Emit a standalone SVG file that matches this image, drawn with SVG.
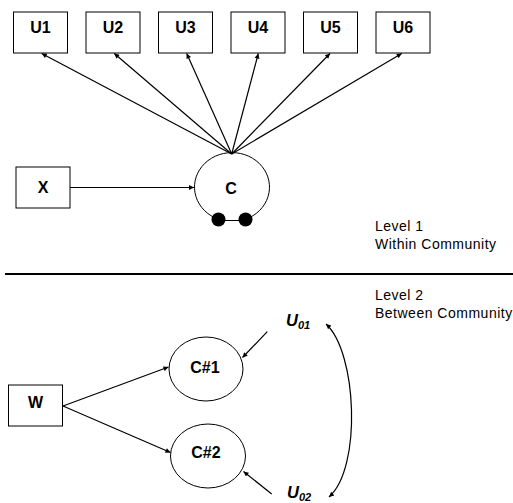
<svg xmlns="http://www.w3.org/2000/svg" width="513" height="503" viewBox="0 0 513 503">
<style>
.box{fill:#fff;stroke:#000;stroke-width:1}
.nd{fill:#fff;stroke:#000;stroke-width:1}
.lb{font-family:"Liberation Sans",Arial,sans-serif;font-weight:bold;font-size:16px;text-anchor:middle;fill:#000}
.cn{stroke:#000;stroke-width:1.2;fill:none;marker-end:url(#ah)}
.tx{font-family:"Liberation Sans",Arial,sans-serif;font-size:14px;letter-spacing:0.5px;fill:#000}
.ui{font-family:"Liberation Sans",Arial,sans-serif;font-weight:bold;font-style:italic;font-size:16.5px;fill:#000}
</style>
<defs>
<marker id="ah" viewBox="0 0 10 10" refX="10" refY="5" markerWidth="7" markerHeight="5" markerUnits="userSpaceOnUse" orient="auto-start-reverse">
<path d="M0,0 L10,5 L0,10 z" fill="#000"/>
</marker>
</defs>
<g id="U1"><rect class="box" x="13.5" y="12" width="54" height="41"/><text class="lb" x="40.5" y="33">U1</text></g>
<g id="U2"><rect class="box" x="86" y="12" width="54" height="41"/><text class="lb" x="113" y="33">U2</text></g>
<g id="U3"><rect class="box" x="158.5" y="12" width="54" height="41"/><text class="lb" x="185.5" y="33">U3</text></g>
<g id="U4"><rect class="box" x="231" y="12" width="54" height="41"/><text class="lb" x="258" y="33">U4</text></g>
<g id="U5"><rect class="box" x="303.5" y="12" width="54" height="41"/><text class="lb" x="330.5" y="33">U5</text></g>
<g id="U6"><rect class="box" x="376" y="12" width="54" height="41"/><text class="lb" x="403" y="33">U6</text></g>
<g id="X"><rect class="box" x="16" y="167" width="54" height="41"/><text class="lb" x="43" y="193">X</text></g>
<g id="C">
<path class="nd" d="M218.5,219.3 A37.5 34.5 0 1 1 245.5,219.3"/>
<line x1="218.5" y1="220.5" x2="245.5" y2="220.5" stroke="#000" stroke-width="1"/>
<circle cx="218.5" cy="219.5" r="7" fill="#000"/>
<circle cx="245.5" cy="219.5" r="7" fill="#000"/>
<text class="lb" x="231" y="194">C</text>
</g>
<g id="W"><rect class="box" x="8.5" y="385" width="54" height="41"/><text class="lb" x="35.5" y="408">W</text></g>
<g id="C1"><ellipse class="nd" cx="206" cy="369" rx="37" ry="32"/><text class="lb" x="205" y="373">C#1</text></g>
<g id="C2"><ellipse class="nd" cx="208" cy="456" rx="37.5" ry="32"/><text class="lb" x="206" y="458">C#2</text></g>
<g id="U01"><text class="ui" x="286" y="326">U<tspan font-size="11" dy="2.5">01</tspan></text></g>
<g id="U02"><text class="ui" x="287" y="498">U<tspan font-size="11" dy="2.5">02</tspan></text></g>
<g id="labels">
<text class="tx" x="375" y="231">Level 1</text>
<text class="tx" x="375" y="249">Within Community</text>
<text class="tx" x="375" y="300">Level 2</text>
<text class="tx" x="375" y="318">Between Community</text>
<line x1="5" y1="274" x2="513" y2="274" stroke="#000" stroke-width="2"/>
</g>
<g id="connectors">
<line class="cn" x1="231.7" y1="154" x2="41.7" y2="53.5"/>
<line class="cn" x1="231.7" y1="154" x2="114.3" y2="53.5"/>
<line class="cn" x1="231.7" y1="154" x2="186.7" y2="53.5"/>
<line class="cn" x1="231.7" y1="154" x2="258.3" y2="53.5"/>
<line class="cn" x1="231.7" y1="154" x2="330" y2="53.5"/>
<line class="cn" x1="231.7" y1="154" x2="401.7" y2="53.5"/>
<line class="cn" x1="70" y1="187.5" x2="194" y2="187.5"/>
<line class="cn" x1="63" y1="406" x2="168.5" y2="367"/>
<line class="cn" x1="63" y1="406" x2="170.5" y2="452.5"/>
<line class="cn" x1="267.3" y1="331.7" x2="242.5" y2="357.5"/>
<line class="cn" x1="271.7" y1="494" x2="243.5" y2="471.5"/>
<path class="cn" d="M326,324 C357,352 362,468 329,497" marker-start="url(#ah)"/>
</g>
</svg>
